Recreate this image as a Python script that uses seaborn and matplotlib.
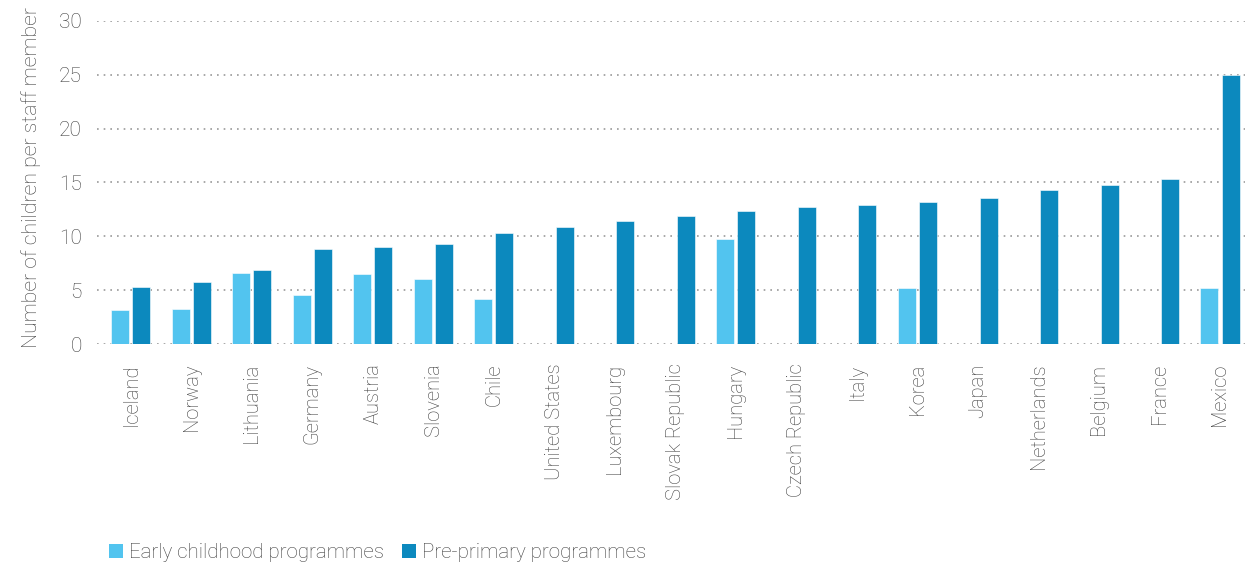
import pandas as pd
import numpy as np
import matplotlib
matplotlib.use('Agg')
import matplotlib.pyplot as plt
import seaborn as sns
from matplotlib.patches import Patch

countries = ['Iceland', 'Norway', 'Lithuania', 'Germany', 'Austria', 'Slovenia', 'Chile',
             'United States', 'Luxembourg', 'Slovak Republic', 'Hungary', 'Czech Republic',
             'Italy', 'Korea', 'Japan', 'Netherlands', 'Belgium', 'France', 'Mexico']
early = [3.2, 3.3, 6.6, 4.6, 6.5, 6.0, 4.2, np.nan, np.nan, np.nan, 9.8, np.nan,
         np.nan, 5.2, np.nan, np.nan, np.nan, np.nan, 5.2]
pre_primary = [5.3, 5.8, 6.9, 8.8, 9.0, 9.3, 10.3, 10.9, 11.4, 11.9, 12.4, 12.7,
               12.9, 13.2, 13.6, 14.3, 14.8, 15.3, 25.0]
series = ['Early childhood programmes', 'Pre-primary programmes']
colors = ['#52C4EF', '#0C89BE']

df = pd.DataFrame({
    'country': countries * 2,
    'value': early + pre_primary,
    'programme': [series[0]] * len(countries) + [series[1]] * len(countries),
})

sns.set_style('white')
plt.rcParams['font.family'] = ['Roboto', 'DejaVu Sans']
plt.rcParams['font.weight'] = 'light'
text_col = '#3f3f3f'

fig = plt.figure(figsize=(12.51, 5.65), dpi=100)
ax = fig.add_axes([0.0775, 0.391, 0.9175, 0.572])

sns.barplot(data=df, x='country', y='value', hue='programme', order=countries,
            hue_order=series, palette=colors, saturation=1, width=0.7, gap=0.15,
            edgecolor='white', linewidth=0.4, legend=False, ax=ax)

ax.set_ylim(0, 30)
ax.set_xlim(-0.56, 18.41)
ax.set_yticks(range(0, 31, 5))
ax.yaxis.grid(True, linestyle=(0, (1, 3)), color='#999999', linewidth=1.2)
ax.set_axisbelow(True)
for s in ax.spines.values():
    s.set_visible(False)

ax.set_xlabel('')
ax.set_ylabel('Number of children per staff member', fontsize=15.3, color=text_col,
              labelpad=13, fontweight='light')
ax.yaxis.label.set_y(0.515)
ax.tick_params(axis='y', labelsize=15, colors=text_col, length=0, pad=11)
ax.tick_params(axis='x', labelsize=14.5, colors=text_col, length=0, pad=14)
plt.setp(ax.get_xticklabels(), rotation=90, fontweight='light')
plt.setp(ax.get_yticklabels(), fontweight='light')

handles = [Patch(facecolor=c, edgecolor='none') for c in colors]
fig.legend(handles, series, loc='lower left', bbox_to_anchor=(0.072, -0.028), ncol=2,
           frameon=False, labelcolor=text_col, handlelength=0.7,
           handleheight=0.7, handletextpad=0.3, columnspacing=0.85,
           prop={'weight': 'light', 'size': 14.8})

fig.savefig('out.png', dpi=100)
